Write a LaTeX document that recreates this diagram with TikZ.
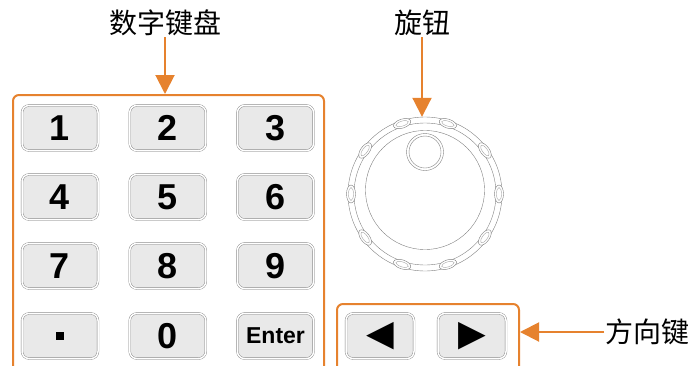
\documentclass[tikz,border=0pt]{standalone}
\usepackage{fontspec}
\setmainfont{Liberation Sans}
\newfontfamily\cjk{Noto Sans CJK SC}
\newfontfamily\symb{DejaVu Sans}
\usetikzlibrary{arrows.meta}
\definecolor{orng}{HTML}{E6822E}
\definecolor{keygray}{HTML}{E9E9E9}
\definecolor{rimgray}{HTML}{808080}
\tikzset{
  keybtn/.style={draw=rimgray, double=white, double distance=1.5pt, fill=keygray,
    rounded corners=7pt, minimum width=76pt, minimum height=45pt, inner sep=0pt,
    font=\fontsize{36}{36}\bfseries},
  frame/.style={draw=orng, line width=2pt, rounded corners=6pt, inner sep=0pt},
  callout/.style={font=\cjk\fontsize{28}{28}\selectfont, inner sep=1pt},
  pointer/.style={draw=orng, line width=2pt, -{Triangle[width=19pt,length=19pt]}},
}

\begin{document}
\begin{tikzpicture}[x=1pt,y=-1pt]
          \useasboundingbox (0,0) rectangle (699,365);
          \clip (0,0) rectangle (699,365);
          % keypad frame
          \node[frame, anchor=north west, minimum width=311pt, minimum height=290pt] (pad) at (12,94) {};
          % digit keys
          \foreach \lbl [count=\i from 0] in {1,2,3,4,5,6,7,8,9}
            \node[keybtn] (k\lbl) at ({60+107.75*mod(\i,3)}, {128+69*int(\i/3)}) {\lbl};
          \node[keybtn] (kdot) at (60,336) {\rule{7.5pt}{7.5pt}};
          \node[keybtn] (k0) at (167.75,336) {0};
          \node[keybtn, font=\fontsize{23}{23}\bfseries] (kenter) at (275.5,336) {Enter};
          % knob
          \node[draw=rimgray, circle, minimum size=154pt, inner sep=0pt] (knob) at (425,194) {};
          \draw[rimgray] (knob.center) circle (71pt);
          \draw[rimgray] (425,190) circle (59.5pt);
          \draw[rimgray] (425,152) circle (18.5pt) (425,152) circle (16pt);
          \foreach \a in {0,36,...,324}
          {
            \begin{scope}[shift={(knob.center)}, rotate=\a]
              \draw[rimgray, fill=white] (74pt,0) ellipse [x radius=4.5pt, y radius=9pt];
              \draw[rimgray!70] (74pt,0) ellipse [x radius=2.5pt, y radius=6.5pt];
            \end{scope}
          }
          % direction keys
          \node[frame, anchor=north west, minimum width=182pt, minimum height=80pt] (dirs) at (336,303) {};
          \node[keybtn, minimum width=68pt] (kleft) at (380,336) {\symb\fontsize{36}{36}\selectfont ◀};
          \node[keybtn, minimum width=68pt] (kright) at (472,336) {\symb\fontsize{36}{36}\selectfont ▶};
          % labels
          \node[callout] (padlbl) at (165,23) {数字键盘};
          \node[callout] (knoblbl) at (422,23) {旋钮};
          \node[callout, anchor=west] (dirlbl) at (604,332) {方向键};
          % pointers
          \draw[pointer] (padlbl.south) -- (padlbl.south |- pad.north);
          \draw[pointer] (knoblbl.south) -- (knoblbl.south |- knob.north);
          \draw[pointer] (dirlbl.west) -- (dirlbl.west -| dirs.east);
        \end{tikzpicture}
\end{document}
